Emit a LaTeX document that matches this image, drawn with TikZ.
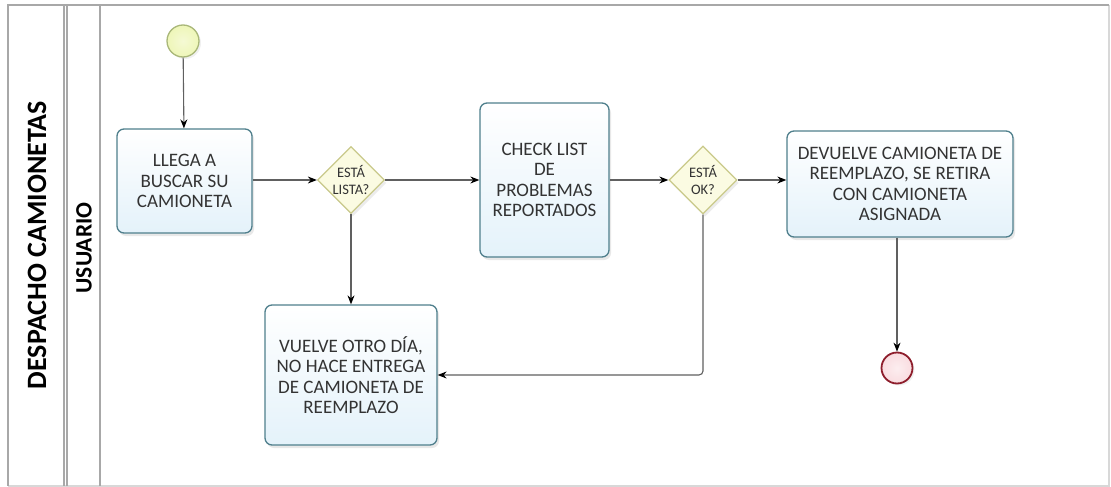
\documentclass[tikz,border=0pt]{standalone}
\usepackage{fontspec}
\setmainfont{Carlito}
\usetikzlibrary{shapes.geometric,shadows,arrows.meta}
\definecolor{framegray}{HTML}{A8A8A8}
\definecolor{framelight}{HTML}{D8D8D8}
\definecolor{taskline}{HTML}{4F7F8C}
\definecolor{taskfill}{HTML}{E4F2FA}
\definecolor{gateline}{HTML}{C9C98A}
\definecolor{gatefill}{HTML}{FBFBE2}
\definecolor{startline}{HTML}{A9B779}
\definecolor{startfill}{HTML}{EEF6B8}
\definecolor{endline}{HTML}{8E1E2C}
\definecolor{endfill}{HTML}{F9DCE0}
\definecolor{flowline}{HTML}{606060}
\definecolor{txt}{HTML}{333333}
\tikzset{
  lane/.style={draw=framegray, line width=1.2pt},
  task/.style={rectangle, rounded corners=7pt, draw=taskline, line width=1.3pt,
    top color=white, bottom color=taskfill, text=txt, align=center,
    font=\fontsize{19}{20.5}\selectfont, inner sep=2pt,
    drop shadow={opacity=0.18, shadow xshift=2pt, shadow yshift=-3pt}},
  gate/.style={diamond, draw=gateline, line width=1.3pt, fill=gatefill,
    text=txt, align=center, font=\fontsize{14.5}{17}\selectfont, inner sep=0pt,
    drop shadow={opacity=0.15, shadow xshift=2pt, shadow yshift=-3pt}},
  startev/.style={circle, draw=startline, line width=1.3pt, inner color=startfill!60!white,
    outer color=startfill, minimum size=32pt, inner sep=0pt,
    drop shadow={opacity=0.12, shadow xshift=2pt, shadow yshift=-2pt}},
  endev/.style={circle, draw=endline, line width=1.8pt, inner color=endfill!50!white,
    outer color=endfill, minimum size=31pt, inner sep=0pt,
    drop shadow={opacity=0.12, shadow xshift=2pt, shadow yshift=-2pt}},
  flow/.style={draw=flowline, line width=1.1pt, -{Stealth[length=9pt,width=7pt,black]}},
  lanetitle/.style={rotate=90, text=black, font=\bfseries\fontsize{28}{32}\selectfont}
}
\begin{document}
\begin{tikzpicture}[x=1pt, y=-1pt]
\useasboundingbox (0,0) rectangle (1111,487);
% pool and lane frame
\draw[draw=framelight, line width=1.2pt] (1109,5) -- (1109,486) -- (8,486);
\draw[lane] (8,486) -- (8,5) -- (1109,5);
\draw[lane] (64,5) -- (64,486);
\draw[lane] (67,5) -- (67,486);
\draw[lane] (100,5) -- (100,486);
\node[lanetitle] (pool) at (37,245) {DESPACHO CAMIONETAS};
\node[lanetitle, font=\bfseries\fontsize{23.5}{27}\selectfont] (lanename) at (84,248) {USUARIO};

% events, tasks and gateways
\node[startev] (start) at (183,41) {};
\node[task, minimum width=135pt, minimum height=104pt] (t1) at (184.5,181)
  {LLEGA A\\BUSCAR SU\\CAMIONETA};
\node[gate, minimum width=67pt, minimum height=67pt] (d1) at (351,180)
  {ESTÁ\\LISTA?};
\node[task, minimum width=129pt, minimum height=154pt] (t2) at (544.5,180)
  {CHECK LIST\\DE\\PROBLEMAS\\REPORTADOS};
\node[gate, minimum width=68pt, minimum height=68pt] (d2) at (703,180)
  {ESTÁ\\OK?};
\node[task, minimum width=226pt, minimum height=106pt] (t3) at (900,184)
  {DEVUELVE CAMIONETA DE\\REEMPLAZO, SE RETIRA\\CON CAMIONETA\\ASIGNADA};
\node[task, minimum width=172pt, minimum height=140pt] (t4) at (351,375)
  {VUELVE OTRO DÍA,\\NO HACE ENTREGA\\DE CAMIONETA DE\\REEMPLAZO};
\node[endev] (stop) at (897,368) {};

% sequence flows
\draw[flow] (start) -- (t1);
\draw[flow] (t1.east |- d1.west) -- (d1.west);
\draw[flow] (d1.east) -- (t2.west |- d1.east);
\draw[flow] (t2.east |- d2.west) -- (d2.west);
\draw[flow] (d2.east) -- (d2.east -| t3.west);
\draw[flow] (d1.south) -- (t4.north);
\draw[flow, rounded corners=4pt] (d2.south) |- (t4.east);
\draw[flow] (t3.south -| stop.north) -- (stop.north);
\end{tikzpicture}
\end{document}
